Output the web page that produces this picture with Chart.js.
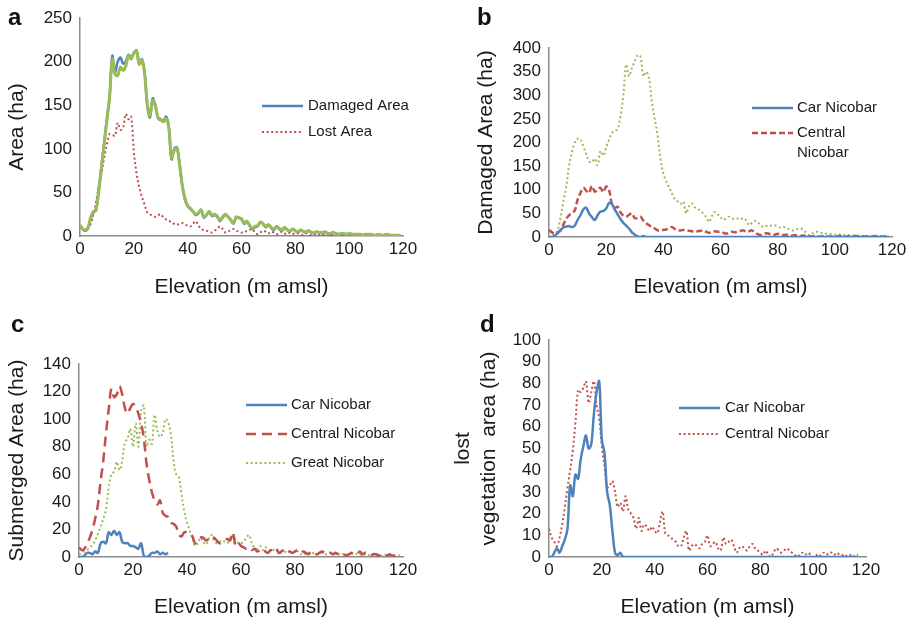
<!DOCTYPE html>
<html>
<head>
<meta charset="utf-8">
<script src="https://cdn.jsdelivr.net/npm/chart.js@4.4.1/dist/chart.umd.min.js"></script>
<style>
html, body { margin: 0; padding: 0; background: #fff; }
#wrap { position: relative; width: 917px; height: 619px; overflow: hidden; }
#wrap canvas { position: absolute; left: 0; top: 0; }
.tag { position: absolute; font: bold 24px "Liberation Sans", Arial, sans-serif; line-height: 24px; color: #111; }
</style>
</head>
<body>
<div id="wrap">
  <canvas id="chartA" width="917" height="619"></canvas>
  <canvas id="chartB" width="917" height="619"></canvas>
  <canvas id="chartC" width="917" height="619"></canvas>
  <canvas id="chartD" width="917" height="619"></canvas>
  <div class="tag" style="left:8px;top:5px">a</div>
  <div class="tag" style="left:477px;top:5px">b</div>
  <div class="tag" style="left:11px;top:312px">c</div>
  <div class="tag" style="left:480px;top:312px">d</div>
</div>
<script>
// elevation (m amsl), one value per metre
const ELEV = [
  0, 1, 2, 3, 4, 5, 6, 7, 8, 9, 10, 11, 12, 13, 14, 15, 16, 17, 18, 19,
  20, 21, 22, 23, 24, 25, 26, 27, 28, 29, 30, 31, 32, 33, 34, 35, 36, 37, 38, 39,
  40, 41, 42, 43, 44, 45, 46, 47, 48, 49, 50, 51, 52, 53, 54, 55, 56, 57, 58, 59,
  60, 61, 62, 63, 64, 65, 66, 67, 68, 69, 70, 71, 72, 73, 74, 75, 76, 77, 78, 79,
  80, 81, 82, 83, 84, 85, 86, 87, 88, 89, 90, 91, 92, 93, 94, 95, 96, 97, 98, 99,
  100, 101, 102, 103, 104, 105, 106, 107, 108, 109, 110, 111, 112, 113, 114, 115, 116, 117, 118, 119
];

// panel a
const A_DAMAGED = [
  12, 8, 6, 9, 20, 27, 30, 55, 80, 108,
  135, 160, 207, 188, 200, 205, 198, 200, 208, 205,
  210, 213, 198, 203, 188, 150, 136, 158, 150, 135,
  133, 132, 137, 125, 88, 100, 102, 82, 58, 42,
  34, 31, 28, 24, 26, 30, 21, 24, 28, 23,
  24, 22, 17, 21, 24, 22, 19, 14, 21, 21,
  19, 14, 16, 13, 8, 10, 11, 16, 14, 10,
  13, 9, 7, 11, 8, 6, 9, 7, 5, 8,
  6, 4, 7, 5, 4, 6, 4, 3, 5, 4,
  3, 5, 3, 2, 4, 3, 2, 3, 2, 2,
  3, 2, 1, 2, 2, 1, 2, 1, 2, 1,
  1, 2, 1, 1, 2, 1, 1, 1, 1, 1
];
const A_TOTAL = [
  13, 8, 7, 10, 22, 28, 31, 52, 80, 106,
  133, 160, 203, 186, 184, 194, 190, 195, 207, 203,
  210, 212, 197, 202, 186, 152, 138, 156, 149, 136,
  134, 131, 135, 124, 90, 98, 101, 82, 58, 43,
  35, 32, 28, 25, 27, 30, 22, 24, 28, 24,
  25, 23, 18, 22, 25, 22, 18, 15, 22, 21,
  20, 15, 17, 12, 9, 11, 12, 16, 14, 11,
  13, 10, 8, 11, 9, 7, 10, 7, 6, 8,
  6, 5, 7, 5, 5, 6, 4, 4, 5, 4,
  4, 5, 3, 3, 4, 3, 2, 3, 3, 2,
  3, 2, 2, 2, 2, 1, 2, 2, 2, 1,
  1, 2, 1, 1, 2, 1, 1, 1, 1, 1
];
const A_LOST = [
  10, 8, 6, 9, 14, 25, 40, 58, 72, 90,
  105, 117, 116, 115, 130, 122, 124, 140, 134, 137,
  97, 72, 56, 45, 36, 27, 25, 23, 22, 24,
  25, 21, 19, 18, 15, 14, 13, 14, 15, 13,
  12, 11, 14, 17, 12, 8, 7, 6, 5, 4,
  6, 8, 11, 8, 4, 5, 7, 8, 6, 5,
  4, 4, 6, 7, 8, 4, 2, 4, 6, 5,
  3, 5, 4, 2, 3, 5, 3, 2, 4, 3,
  2, 3, 2, 1, 3, 2, 1, 2, 3, 1,
  2, 1, 2, 1, 1, 2, 1, 1, 2, 1,
  1, 1, 2, 1, 1, 1, 1, 2, 1, 1,
  1, 1, 1, 1, 1, 1, 1, 1, 1, 1
];

// panel b: damaged area
const B_CAR = [
  0, 0, 3, 8, 14, 20, 22, 23, 21, 24,
  36, 46, 58, 62, 50, 42, 36, 46, 54, 55,
  60, 72, 70, 58, 48, 38, 30, 24, 18, 10,
  5, 1, 0, 2, 0, 0, 0, 0, 0, 0,
  0, 0, 0, 0, 0, 0, 0, 0, 0, 0,
  0, 0, 0, 0, 0, 0, 0, 0, 0, 0,
  0, 0, 0, 0, 0, 0, 0, 0, 0, 0,
  0, 0, 0, 0, 0, 0, 0, 0, 0, 0,
  0, 0, 0, 0, 0, 0, 0, 0, 0, 0,
  0, 0, 0, 0, 0, 0, 0, 0, 0, 0,
  0, 0, 0, 0, 0, 0, 0, 0, 0, 0,
  0, 0, 0, 0, 0, 0, 0, 0, 0, 0
];
const B_CENTRAL = [
  15, 10, 7, 10, 14, 26, 38, 46, 50, 56,
  79, 93, 104, 98, 93, 108, 96, 100, 104, 95,
  107, 100, 70, 62, 64, 52, 45, 43, 47, 50,
  40, 40, 43, 35, 29, 25, 21, 18, 14, 14,
  15, 16, 18, 21, 17, 14, 14, 15, 14, 13,
  12, 11, 12, 13, 14, 11, 9, 11, 12, 11,
  11, 9, 7, 9, 11, 10, 11, 13, 14, 11,
  12, 14, 10, 6, 4, 6, 8, 7, 6, 5,
  7, 5, 4, 5, 4, 3, 4, 3, 2, 3,
  2, 2, 1, 2, 1, 1, 2, 1, 1, 1,
  1, 1, 2, 1, 1, 1, 1, 2, 1, 1,
  1, 1, 1, 1, 2, 1, 1, 1, 1, 1
];
const B_GREAT = [
  0, 0, 2, 14, 40, 75, 105, 150, 180, 200,
  208, 207, 192, 176, 160, 158, 166, 152, 182, 172,
  190, 205, 220, 225, 228, 255, 300, 365, 340, 358,
  372, 385, 382, 340, 350, 335, 285, 250, 215, 165,
  135, 118, 105, 92, 80, 75, 70, 75, 50, 65,
  71, 63, 60, 55, 50, 42, 32, 45, 53, 48,
  42, 36, 40, 43, 40, 38, 39, 37, 40, 35,
  25, 30, 34, 31, 26, 21, 23, 25, 24, 25,
  22, 20, 21, 19, 16, 14, 15, 17, 18, 15,
  9, 4, 7, 10, 11, 9, 8, 7, 7, 6,
  5, 6, 5, 4, 5, 4, 3, 4, 3, 3,
  2, 2, 3, 2, 2, 2, 1, 2, 1, 1
];

// panel c: submerged area
const C_CAR = [
  0, 0, 1, 3, 3, 2, 4, 3, 10, 11,
  10, 18, 16, 19, 16, 18, 11, 10, 10, 8,
  8, 7, 6, 10, 1, 0, 1, 3, 3, 4,
  2, 3, 2, 3
];
const C_CENTRAL = [
  7, 5, 6, 10, 14, 20, 28, 38, 55, 70,
  90, 107, 122, 116, 118, 124, 118, 108, 104, 108,
  111, 109, 104, 97, 86, 68, 56, 47, 41, 38,
  41, 32, 30, 29, 25, 24, 22, 16, 15, 18,
  18, 17, 15, 10, 12, 14, 14, 12, 13, 15,
  14, 12, 10, 11, 12, 13, 12, 18, 8, 10,
  8, 7, 6, 7, 5, 6, 4, 5, 6, 4,
  3, 5, 4, 6, 3, 4, 5, 3, 4, 3,
  4, 5, 3, 4, 3, 2, 4, 3, 2, 3,
  4, 3, 2, 3, 2, 3, 2, 3, 2, 1,
  2, 3, 2, 2, 4, 2, 3, 2, 1, 2,
  2, 1, 2, 1, 1, 2, 1, 1, 1, 1
];
const C_GREAT = [
  2, 3, 4, 5, 7, 9, 12, 17, 22, 28,
  35, 50, 60, 62, 69, 63, 70, 83, 86, 93,
  80, 97, 80, 106, 110, 80, 85, 82, 103, 92,
  87, 90, 100, 98, 89, 70, 60, 58, 45, 33,
  25, 19, 14, 8, 10, 14, 11, 9, 13, 16,
  12, 10, 11, 12, 11, 10, 14, 16, 12, 10,
  10, 11, 14, 16, 10, 7, 6, 8, 5, 7,
  6, 4, 5, 4, 5, 3, 4, 3, 4, 3,
  3, 4, 2, 3, 2, 3, 2, 3, 2, 2,
  3, 2, 2, 3, 2, 2, 2, 3, 2, 2,
  2, 2, 3, 2, 2, 1, 2, 2, 1, 2,
  1, 2, 1, 2, 1, 1, 1, 1, 1, 1
];

// panel d: lost vegetation area
const D_CAR = [
  0, 0, 2, 4, 2, 5, 8, 13, 33, 28,
  38, 36, 45, 51, 56, 50, 52, 66, 76, 81,
  54, 48, 30, 24, 12, 2, 1, 2, 0, 0,
  0, 0, 0, 0, 0, 0, 0, 0, 0, 0,
  0, 0, 0, 0, 0, 0, 0, 0, 0, 0,
  0, 0, 0, 0, 0, 0, 0, 0, 0, 0,
  0, 0, 0, 0, 0, 0, 0, 0, 0, 0,
  0, 0, 0, 0, 0, 0, 0, 0, 0, 0,
  0, 0, 0, 0, 0, 0, 0, 0, 0, 0,
  0, 0, 0, 0, 0, 0, 0, 0, 0, 0,
  0, 0, 0, 0, 0, 0, 0, 0, 0, 0,
  0, 0, 0, 0, 0, 0, 0, 0
];
const D_CENTRAL = [
  13, 9, 7, 5, 9, 15, 23, 32, 40, 49,
  62, 77, 76, 78, 81, 71, 76, 81, 70, 64,
  51, 42, 32, 33, 35, 30, 23, 25, 21, 28,
  22, 20, 18, 13, 18, 12, 15, 14, 12, 14,
  12, 11, 16, 21, 11, 10, 9, 8, 7, 5,
  5, 9, 12, 3, 5, 6, 5, 4, 6, 7,
  10, 5, 6, 7, 4, 3, 9, 6, 7, 8,
  5, 2, 4, 5, 4, 3, 5, 6, 4, 3,
  2, 1, 3, 1, 0, 2, 4, 3, 2, 3,
  4, 3, 2, 1, 0, 1, 2, 1, 2, 1,
  0, 1, 0, 1, 2, 1, 2, 2, 1, 2,
  1, 1, 0, 1, 1, 0, 1, 1
];

const BLUE = '#4f81bd';
const RED = '#c0504d';
const GREEN = '#9bbb59';
const FONT = '"Liberation Sans", Arial, Helvetica, sans-serif';

Chart.defaults.font.family = FONT;
Chart.defaults.color = '#1a1a1a';

function pts(values) {
  return values.map((v, i) => ({ x: ELEV[i], y: v }));
}

// legend drawn inside the plot, from the datasets' own styles
const insideLegend = {
  id: 'insideLegend',
  afterDraw(chart, args, opts) {
    const ctx = chart.ctx;
    ctx.save();
    ctx.font = '15px ' + FONT;
    ctx.textBaseline = 'middle';
    ctx.textAlign = 'left';
    let row = 0;
    chart.data.datasets.forEach(ds => {
      if (!ds.legendText) return;
      const y = opts.rows[row++];
      ctx.beginPath();
      ctx.strokeStyle = ds.borderColor;
      ctx.lineWidth = ds.borderWidth;
      ctx.setLineDash(ds.borderDash || []);
      ctx.moveTo(opts.x, y);
      ctx.lineTo(opts.x + opts.len, y);
      ctx.stroke();
      ctx.setLineDash([]);
      ctx.fillStyle = '#1a1a1a';
      ds.legendText.split('\n').forEach((t, i) => {
        ctx.fillText(t, opts.x + opts.len + opts.gap, y + i * 20);
      });
    });
    ctx.restore();
  }
};

function panel(id, box, yMax, yStep, yTitle, datasets, legend) {
  const yW = box.L - box.yTitleLeft;
  const xH = box.xTitleY + 12.6 - box.B;
  return new Chart(document.getElementById(id), {
    type: 'line',
    data: { datasets: datasets },
    options: {
      responsive: false,
      animation: false,
      events: [],
      layout: {
        padding: { left: box.L - yW, top: box.T, right: 917 - box.R, bottom: 619 - box.B - xH }
      },
      elements: {
        point: { radius: 0 },
        line: { tension: 0.35, borderCapStyle: 'butt' }
      },
      plugins: {
        legend: { display: false },
        tooltip: { enabled: false },
        insideLegend: legend
      },
      scales: {
        x: {
          type: 'linear',
          min: 0, max: 120,
          afterFit: s => { s.height = xH; },
          grid: { display: false, drawTicks: false },
          border: { display: true, color: '#8c8c8c', width: 1.5 },
          ticks: { stepSize: 20, autoSkip: false, maxRotation: 0, padding: 3, font: { size: 17 }, color: '#1a1a1a' },
          title: { display: true, text: 'Elevation (m amsl)', font: { size: 21 }, padding: 0, color: '#1a1a1a' }
        },
        y: {
          min: 0, max: yMax,
          afterFit: s => { s.width = yW; },
          grid: { display: false, drawTicks: false },
          border: { display: true, color: '#8c8c8c', width: 1.5 },
          ticks: { stepSize: yStep, autoSkip: false, padding: 8, font: { size: 17 }, color: '#1a1a1a' },
          title: { display: true, text: yTitle, font: { size: 21 }, padding: 0, color: '#1a1a1a' }
        }
      }
    },
    plugins: [insideLegend]
  });
}

panel('chartA',
  { L: 80, T: 17, R: 403, B: 236, yTitleLeft: 5, xTitleY: 287 },
  250, 50, 'Area (ha)',
  [
    { data: pts(A_TOTAL), borderColor: GREEN, borderWidth: 3 },
    { data: pts(A_DAMAGED), borderColor: BLUE, borderWidth: 2.5, legendText: 'Damaged Area' },
    { data: pts(A_LOST), borderColor: RED, borderWidth: 2, borderDash: [2, 2.6], legendText: 'Lost Area' }
  ],
  { x: 262, len: 41, gap: 5, rows: [106, 132] }
);

panel('chartB',
  { L: 549, T: 48, R: 892, B: 237, yTitleLeft: 474, xTitleY: 287 },
  400, 50, 'Damaged Area (ha)',
  [
    { data: pts(B_CAR), borderColor: BLUE, borderWidth: 2.5, legendText: 'Car Nicobar' },
    { data: pts(B_CENTRAL), borderColor: RED, borderWidth: 2.5, borderDash: [6, 3], legendText: 'Central\nNicobar' },
    { data: pts(B_GREAT), borderColor: GREEN, borderWidth: 2, borderDash: [2, 2.6] }
  ],
  { x: 752, len: 41, gap: 4, rows: [108, 133] }
);

panel('chartC',
  { L: 79, T: 364, R: 403, B: 557, yTitleLeft: 5, xTitleY: 607 },
  140, 20, 'Submerged Area (ha)',
  [
    { data: pts(C_CAR), borderColor: BLUE, borderWidth: 2.5, legendText: 'Car Nicobar' },
    { data: pts(C_CENTRAL), borderColor: RED, borderWidth: 2.5, borderDash: [10, 6], legendText: 'Central Nicobar' },
    { data: pts(C_GREAT), borderColor: GREEN, borderWidth: 2, borderDash: [2, 2.6], legendText: 'Great Nicobar' }
  ],
  { x: 246, len: 41, gap: 4, rows: [405, 434, 463] }
);

panel('chartD',
  { L: 549, T: 340, R: 866, B: 557, yTitleLeft: 451, xTitleY: 607 },
  100, 10, ['lost', 'vegetation  area (ha)'],
  [
    { data: pts(D_CAR), borderColor: BLUE, borderWidth: 2.5, legendText: 'Car Nicobar' },
    { data: pts(D_CENTRAL), borderColor: RED, borderWidth: 2, borderDash: [2, 2.6], legendText: 'Central Nicobar' }
  ],
  { x: 679, len: 41, gap: 5, rows: [408, 434] }
);
</script>
</body>
</html>
